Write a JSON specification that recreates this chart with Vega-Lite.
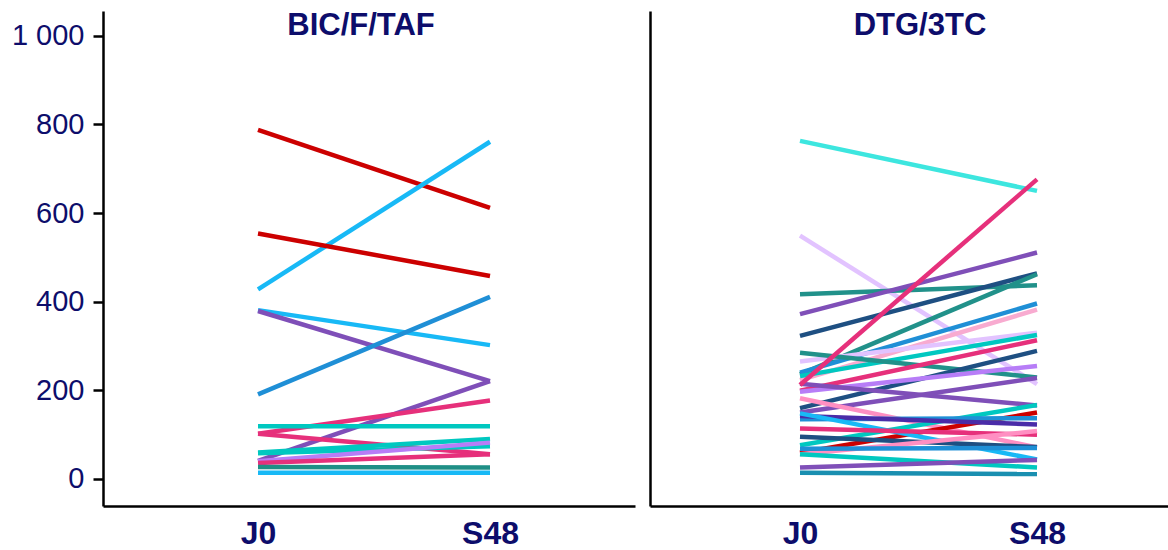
{
  "$schema": "https://vega.github.io/schema/vega-lite/v6.json",
  "padding": {"left": 0, "top": 10, "right": 0, "bottom": 0},
  "background": "white",
  "spacing": 15,
  "config": {
    "view": {"stroke": null},
    "font": "Liberation Sans",
    "axis": {"grid": false, "domainColor": "black", "domainWidth": 2.5, "tickColor": "black", "tickWidth": 2.5, "title": null}
  },
  "datasets": {
    "bic": [
      {"id": "B01", "week": 0, "value": 788}, {"id": "B01", "week": 48, "value": 612},
      {"id": "B02", "week": 0, "value": 428}, {"id": "B02", "week": 48, "value": 761},
      {"id": "B03", "week": 0, "value": 554}, {"id": "B03", "week": 48, "value": 458},
      {"id": "B04", "week": 0, "value": 381}, {"id": "B04", "week": 48, "value": 302},
      {"id": "B05", "week": 0, "value": 379}, {"id": "B05", "week": 48, "value": 221},
      {"id": "B06", "week": 0, "value": 191}, {"id": "B06", "week": 48, "value": 411},
      {"id": "B07", "week": 0, "value": 41}, {"id": "B07", "week": 48, "value": 221},
      {"id": "B08", "week": 0, "value": 102}, {"id": "B08", "week": 48, "value": 177},
      {"id": "B09", "week": 0, "value": 119}, {"id": "B09", "week": 48, "value": 119},
      {"id": "B10", "week": 0, "value": 102}, {"id": "B10", "week": 48, "value": 56},
      {"id": "B11", "week": 0, "value": 60}, {"id": "B11", "week": 48, "value": 90},
      {"id": "B12", "week": 0, "value": 58}, {"id": "B12", "week": 48, "value": 74},
      {"id": "B13", "week": 0, "value": 40}, {"id": "B13", "week": 48, "value": 82},
      {"id": "B14", "week": 0, "value": 36}, {"id": "B14", "week": 48, "value": 56},
      {"id": "B15", "week": 0, "value": 27}, {"id": "B15", "week": 48, "value": 26},
      {"id": "B16", "week": 0, "value": 14}, {"id": "B16", "week": 48, "value": 14}
    ],
    "dtg": [
      {"id": "D01", "week": 0, "value": 763}, {"id": "D01", "week": 48, "value": 650},
      {"id": "D03", "week": 0, "value": 549}, {"id": "D03", "week": 48, "value": 214},
      {"id": "D04", "week": 0, "value": 417}, {"id": "D04", "week": 48, "value": 437},
      {"id": "D05", "week": 0, "value": 372}, {"id": "D05", "week": 48, "value": 511},
      {"id": "D06", "week": 0, "value": 323}, {"id": "D06", "week": 48, "value": 464},
      {"id": "D07", "week": 0, "value": 236}, {"id": "D07", "week": 48, "value": 462},
      {"id": "D08", "week": 0, "value": 240}, {"id": "D08", "week": 48, "value": 396},
      {"id": "D09", "week": 0, "value": 223}, {"id": "D09", "week": 48, "value": 382},
      {"id": "D10", "week": 0, "value": 265}, {"id": "D10", "week": 48, "value": 330},
      {"id": "D11", "week": 0, "value": 232}, {"id": "D11", "week": 48, "value": 325},
      {"id": "D12", "week": 0, "value": 285}, {"id": "D12", "week": 48, "value": 229},
      {"id": "D13", "week": 0, "value": 199}, {"id": "D13", "week": 48, "value": 313},
      {"id": "D14", "week": 0, "value": 160}, {"id": "D14", "week": 48, "value": 289},
      {"id": "D15", "week": 0, "value": 197}, {"id": "D15", "week": 48, "value": 255},
      {"id": "D16", "week": 0, "value": 215}, {"id": "D16", "week": 48, "value": 166},
      {"id": "D17", "week": 0, "value": 150}, {"id": "D17", "week": 48, "value": 228},
      {"id": "D18", "week": 0, "value": 182}, {"id": "D18", "week": 48, "value": 71},
      {"id": "D19", "week": 0, "value": 76}, {"id": "D19", "week": 48, "value": 167},
      {"id": "D20", "week": 0, "value": 59}, {"id": "D20", "week": 48, "value": 150},
      {"id": "D21", "week": 0, "value": 135}, {"id": "D21", "week": 48, "value": 137},
      {"id": "D22", "week": 0, "value": 142}, {"id": "D22", "week": 48, "value": 123},
      {"id": "D23", "week": 0, "value": 148}, {"id": "D23", "week": 48, "value": 44},
      {"id": "D24", "week": 0, "value": 114}, {"id": "D24", "week": 48, "value": 100},
      {"id": "D25", "week": 0, "value": 95}, {"id": "D25", "week": 48, "value": 72},
      {"id": "D26", "week": 0, "value": 56}, {"id": "D26", "week": 48, "value": 108},
      {"id": "D27", "week": 0, "value": 68}, {"id": "D27", "week": 48, "value": 70},
      {"id": "D28", "week": 0, "value": 56}, {"id": "D28", "week": 48, "value": 26},
      {"id": "D29", "week": 0, "value": 26}, {"id": "D29", "week": 48, "value": 43},
      {"id": "D30", "week": 0, "value": 14}, {"id": "D30", "week": 48, "value": 11},
      {"id": "D02", "week": 0, "value": 212}, {"id": "D02", "week": 48, "value": 676}
    ]
  },
  "resolve": {"scale": {"x": "independent"}},
  "hconcat": [
    {
      "width": 532,
      "height": 495,
      "title": {"text": "BIC/F/TAF", "fontSize": 31, "fontWeight": "bold", "color": "#0d0d6b", "offset": -31, "anchor": "middle", "dx": -8},
      "data": {"name": "bic"},
      "mark": {"type": "line", "strokeWidth": 4.5, "clip": false},
      "encoding": {
        "x": {"field": "week", "type": "quantitative",
          "scale": {"domain": [-32.07, 78.0], "nice": false, "zero": false},
          "axis": {"values": [0, 48], "labelExpr": "datum.value == 0 ? 'J0' : 'S48'", "ticks": false, "labelFontSize": 32, "labelFontWeight": "bold", "labelColor": "#0d0d6b", "labelPadding": 12, "labelAngle": 0, "labelFlush": false}},
        "y": {"field": "value", "type": "quantitative",
          "scale": {"domain": [-61, 1056], "nice": false, "zero": false},
          "axis": {"values": [0, 200, 400, 600, 800, 1000], "labelExpr": "replace(format(datum.value, ','), ',', ' ')", "tickSize": 10, "labelPadding": 9, "labelFontSize": 29, "labelColor": "#0d0d6b", "minExtent": 103, "maxExtent": 103}},
        "color": {"field": "id", "type": "nominal", "legend": null,
          "scale": {"domain": ["B01","B02","B03","B04","B05","B06","B07","B08","B09","B10","B11","B12","B13","B14","B15","B16","D01","D02","D03","D04","D05","D06","D07","D08","D09","D10","D11","D12","D13","D14","D15","D16","D17","D18","D19","D20","D21","D22","D23","D24","D25","D26","D27","D28","D29","D30"],
            "range": ["#cc0000","#18b9f6","#cc0000","#18b9f6","#7f4fb8","#1f8fd6","#7f4fb8","#e6307b","#00c8c0","#e6307b","#00c8c0","#00c8c0","#b77df7","#e6307b","#1f8f86","#18b9f6",
                      "#3de6df","#e6307b","#e2c3ff","#21918a","#7f4fb8","#1e4f82","#21918a","#1f8fd6","#f8abd0","#e2c3ff","#00c8c0","#21918a","#e6307b","#1e4f82","#b77df7","#7f4fb8","#7f4fb8","#ff8fc2","#00c8c0","#cc0000","#1f8fd6","#4a2ca8","#18b9f6","#e6307b","#1e4f82","#ff8fc2","#1f8fd6","#00c8c0","#7f4fb8","#1a8fb0"]}}
      }
    },
    {
      "width": 518,
      "height": 495,
      "title": {"text": "DTG/3TC", "fontSize": 31, "fontWeight": "bold", "color": "#0d0d6b", "offset": -31, "anchor": "middle", "dx": 11},
      "data": {"name": "dtg"},
      "mark": {"type": "line", "strokeWidth": 4.5, "clip": false},
      "encoding": {
        "x": {"field": "week", "type": "quantitative",
          "scale": {"domain": [-30.38, 74.53], "nice": false, "zero": false},
          "axis": {"values": [0, 48], "labelExpr": "datum.value == 0 ? 'J0' : 'S48'", "ticks": false, "labelFontSize": 32, "labelFontWeight": "bold", "labelColor": "#0d0d6b", "labelPadding": 12, "labelAngle": 0, "labelFlush": false}},
        "y": {"field": "value", "type": "quantitative",
          "scale": {"domain": [-61, 1056], "nice": false, "zero": false},
          "axis": {"labels": false, "ticks": false, "minExtent": 0, "maxExtent": 0}},
        "color": {"field": "id", "type": "nominal", "legend": null}
      }
    }
  ]
}
